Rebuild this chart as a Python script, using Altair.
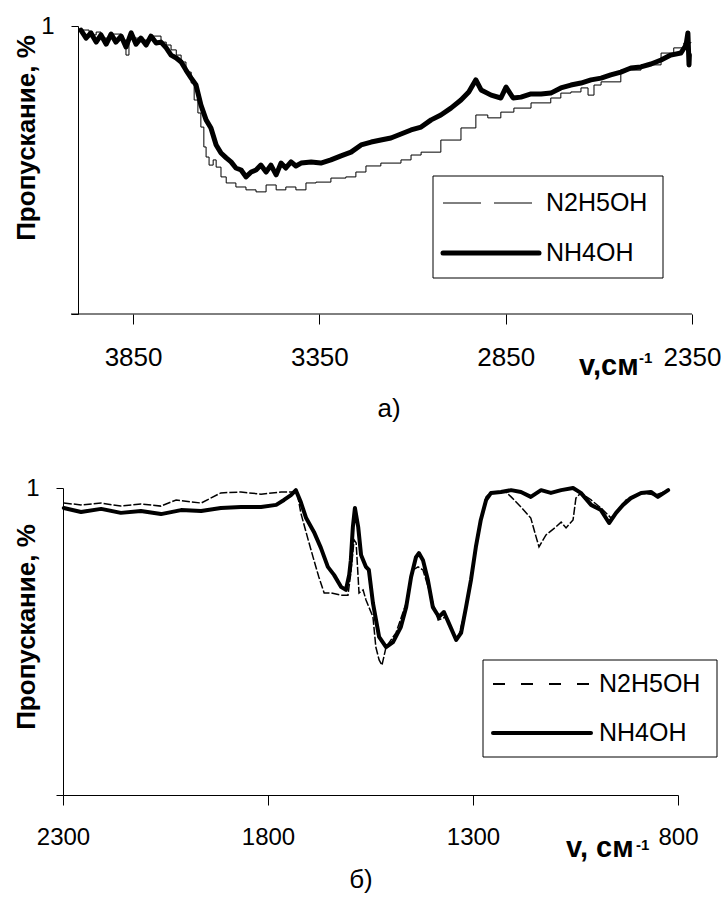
import altair as alt
import pandas as pd

# ---------------- data: panel a) 4000-2350 cm-1 ----------------
a_nh4_wn = [3990, 3976, 3963, 3949, 3936, 3922, 3909, 3896, 3882, 3869, 3855, 3842, 3829, 3815, 3802,
            3788, 3775, 3761, 3748, 3734, 3721, 3708, 3694, 3681, 3668, 3654, 3641, 3627, 3614, 3600,
            3587, 3574, 3560, 3547, 3533, 3520, 3507, 3493, 3480, 3466, 3453, 3440, 3426, 3413, 3399,
            3372, 3346, 3319, 3292, 3265, 3238, 3211, 3185, 3158, 3131, 3104, 3077, 3050, 3024, 2997,
            2970, 2949, 2930, 2916, 2889, 2863, 2849, 2830, 2809, 2782, 2755, 2729, 2702, 2675, 2648,
            2621, 2594, 2568, 2541, 2514, 2487, 2460, 2433, 2407, 2380, 2366, 2361, 2358, 2357]
a_nh4_t = [0.986, 0.958, 0.976, 0.944, 0.969, 0.937, 0.972, 0.944, 0.965, 0.927, 0.976, 0.937, 0.958, 0.934, 0.965,
           0.941, 0.944, 0.924, 0.899, 0.889, 0.875, 0.847, 0.819, 0.795, 0.726, 0.674, 0.646, 0.587, 0.559, 0.542,
           0.528, 0.507, 0.500, 0.476, 0.493, 0.500, 0.517, 0.493, 0.517, 0.483, 0.524, 0.507, 0.528, 0.514, 0.524,
           0.528, 0.524, 0.535, 0.549, 0.562, 0.587, 0.597, 0.604, 0.611, 0.625, 0.639, 0.649, 0.674, 0.691, 0.715,
           0.743, 0.771, 0.813, 0.778, 0.760, 0.750, 0.788, 0.750, 0.753, 0.764, 0.764, 0.767, 0.785, 0.795, 0.802,
           0.813, 0.819, 0.830, 0.840, 0.854, 0.858, 0.868, 0.882, 0.899, 0.906, 0.934, 0.976, 0.865, 0.900]

a_n2_wn = [3990, 3968, 3949, 3936, 3909, 3882, 3869, 3861, 3829, 3802, 3775, 3761, 3748, 3734, 3721,
           3708, 3694, 3686, 3676, 3668, 3660, 3654, 3646, 3635, 3627, 3614, 3600, 3574, 3547, 3520,
           3493, 3466, 3440, 3413, 3386, 3359, 3319, 3279, 3252, 3225, 3185, 3131, 3104, 3077, 3024,
           2970, 2930, 2898, 2863, 2828, 2782, 2729, 2702, 2675, 2648, 2629, 2613, 2594, 2541, 2487,
           2433, 2399, 2372, 2353]
a_n2_t = [0.986, 0.969, 0.979, 0.958, 0.972, 0.951, 0.899, 0.958, 0.951, 0.965, 0.944, 0.934, 0.917, 0.899, 0.875,
          0.840, 0.802, 0.743, 0.698, 0.649, 0.580, 0.545, 0.517, 0.535, 0.510, 0.476, 0.455, 0.441, 0.431, 0.424,
          0.448, 0.431, 0.441, 0.431, 0.455, 0.458, 0.472, 0.476, 0.493, 0.514, 0.524, 0.535, 0.552, 0.562, 0.604,
          0.646, 0.691, 0.681, 0.701, 0.715, 0.733, 0.750, 0.767, 0.771, 0.785, 0.760, 0.795, 0.806, 0.847, 0.865,
          0.906, 0.924, 0.941, 0.944]

# ---------------- data: panel б) 2300-800 cm-1 ----------------
b_nh4_wn = [2298, 2256, 2207, 2159, 2110, 2061, 2012, 1963, 1915, 1866, 1817, 1780, 1761, 1744, 1732,
            1720, 1707, 1688, 1671, 1654, 1639, 1622, 1610, 1602, 1598, 1593, 1588, 1580, 1573, 1561,
            1554, 1544, 1529, 1512, 1495, 1476, 1463, 1451, 1439, 1432, 1422, 1410, 1398, 1383, 1371,
            1359, 1341, 1329, 1317, 1305, 1293, 1281, 1268, 1256, 1232, 1207, 1183, 1159, 1134, 1110,
            1085, 1056, 1037, 1012, 988, 968, 951, 934, 915, 890, 866, 849, 824]
b_nh4_t = [0.935, 0.922, 0.932, 0.919, 0.925, 0.915, 0.928, 0.925, 0.935, 0.938, 0.938, 0.945, 0.961, 0.977, 0.993,
           0.954, 0.902, 0.857, 0.805, 0.743, 0.717, 0.678, 0.668, 0.717, 0.765, 0.873, 0.935, 0.873, 0.782, 0.743,
           0.733, 0.625, 0.515, 0.482, 0.498, 0.547, 0.612, 0.710, 0.775, 0.788, 0.765, 0.700, 0.612, 0.580, 0.596,
           0.560, 0.505, 0.528, 0.612, 0.700, 0.808, 0.896, 0.961, 0.984, 0.987, 0.993, 0.987, 0.971, 0.993, 0.984,
           0.993, 1.000, 0.984, 0.945, 0.928, 0.886, 0.919, 0.945, 0.967, 0.984, 0.987, 0.971, 0.993]

b_n2_wn = [2298, 2256, 2207, 2159, 2110, 2061, 2024, 1963, 1915, 1866, 1817, 1768, 1729, 1720, 1702,
           1688, 1676, 1663, 1646, 1622, 1605, 1598, 1590, 1585, 1578, 1568, 1561, 1544, 1537, 1529,
           1522, 1512, 1488, 1463, 1446, 1434, 1422, 1402, 1385, 1366, 1349, 1337, 1317, 1300, 1285,
           1268, 1256, 1220, 1207, 1183, 1159, 1146, 1139, 1122, 1098, 1085, 1073, 1056, 1049, 1037,
           1012, 988, 963, 944, 927, 890, 854, 824]
b_n2_t = [0.951, 0.945, 0.951, 0.941, 0.948, 0.941, 0.961, 0.951, 0.984, 0.987, 0.980, 0.987, 0.987, 0.919, 0.831,
          0.765, 0.710, 0.658, 0.658, 0.651, 0.651, 0.723, 0.831, 0.821, 0.658, 0.668, 0.635, 0.580, 0.482, 0.440,
          0.423, 0.482, 0.528, 0.625, 0.733, 0.743, 0.733, 0.645, 0.570, 0.580, 0.528, 0.505, 0.612, 0.743, 0.873,
          0.971, 0.987, 0.987, 0.971, 0.938, 0.902, 0.840, 0.808, 0.847, 0.873, 0.889, 0.870, 0.896, 0.967, 0.984,
          0.961, 0.935, 0.902, 0.928, 0.961, 0.984, 0.977, 0.993]

series_names = ["N2H5OH", "NH4OH"]
y_title = "Пропускание, %"
a_ticks = [3850, 3350, 2850, 2350]
b_ticks = [2300, 1800, 1300, 800]

FONT = "Liberation Sans"
one = alt.Data(values=[{}])


def deco_rect(x, x2, y, y2):
    return alt.Chart(one).mark_rect(fill="white", stroke="black", strokeWidth=1).encode(
        x=alt.value(x), x2=alt.value(x2), y=alt.value(y), y2=alt.value(y2))


def deco_rule(x, x2, y, width, dash=None, cap="butt"):
    kw = dict(color="black", strokeWidth=width, strokeCap=cap)
    if dash is not None:
        kw["strokeDash"] = dash
    return alt.Chart(one).mark_rule(**kw).encode(x=alt.value(x), x2=alt.value(x2), y=alt.value(y))


def deco_text(txt, x, y, size, bold=False, align="left", baseline="middle", angle=0):
    return alt.Chart(one).mark_text(text=txt, font=FONT, fontSize=size, fontWeight="bold" if bold else "normal",
                                     align=align, baseline=baseline, color="black", angle=angle).encode(
        x=alt.value(x), y=alt.value(y))


def panel(nh4_wn, nh4_t, n2_wn, n2_t, xdom, ticks, w, h, yoff, title_y, thick_w, thin_w, thin_dash,
          thin_interp, lbl_size, legend, xlabel, caption):
    df_nh4 = pd.DataFrame({"wn": nh4_wn, "t": nh4_t})
    df_n2 = pd.DataFrame({"wn": n2_wn, "t": n2_t})
    xenc = alt.X("wn:Q", scale=alt.Scale(domain=xdom, reverse=True, nice=False, zero=False),
                 axis=alt.Axis(values=ticks, format="d", title=None, tickSize=10, labelPadding=20,
                               labelFontSize=lbl_size, labelFont=FONT, domain=(yoff == 0),
                               domainColor="black", tickColor="black",
                               labelColor="black", labelFlush=False, labelOverlap=False))
    yenc = alt.Y("t:Q", scale=alt.Scale(domain=[0, 1], nice=False, zero=False),
                 axis=alt.Axis(values=[0, 1], labelExpr="datum.value == 1 ? '1' : ''", tickSize=7,
                               labelPadding=17, labelFontSize=24, labelFont=FONT, labelColor="black",
                               domainColor="black", tickColor="black", title=None, offset=-yoff))
    thin_kw = dict(color="black", strokeWidth=thin_w, interpolate=thin_interp)
    if thin_dash is not None:
        thin_kw["strokeDash"] = thin_dash
    thin = alt.Chart(df_n2).mark_line(**thin_kw).encode(x=xenc, y=yenc)
    thick = alt.Chart(df_nh4).mark_line(color="black", strokeWidth=thick_w, strokeJoin="round",
                                        strokeCap="round").encode(x=xenc, y=yenc)
    lines = [thin, thick] if thin_dash is None else [thick, thin]
    deco = [deco_text(y_title, -36, title_y, 26, bold=True, align="center", baseline="middle", angle=270)]
    if yoff:
        # x-axis line of panel a) starts at the y-axis bottom tick
        deco.append(deco_rule(yoff - 7, w, h, 1))
    (bx, bx2, by, by2, sx, sx2, tx, y1, y2, dash1, w1, w2, fs) = legend
    deco += [deco_rect(bx, bx2, by, by2),
             deco_rule(sx, sx2, y1, w1, dash1), deco_text(series_names[0], tx, y1, fs),
             deco_rule(sx, sx2, y2, w2, cap="round"), deco_text(series_names[1], tx, y2, fs)]
    (lx, ly, ltxt, sx_, sy_, lfs) = xlabel
    deco += [deco_text(ltxt, lx, ly, lfs, bold=True, baseline="alphabetic"),
             deco_text("-1", sx_, sy_, 15, bold=True, baseline="alphabetic")]
    (cx, cy, ctxt) = caption
    deco.append(deco_text(ctxt, cx, cy, 26, align="center", baseline="alphabetic"))
    return alt.layer(*lines, *deco).properties(width=w, height=h)


top = panel(a_nh4_wn, a_nh4_t, a_n2_wn, a_n2_t, [2350, 4038], a_ticks, 629, 288,
            15, 112, 5, 1, None, "step-after", 26,
            (370, 600, 150, 252, 380, 476, 483, 177, 227, [38, 13], 1, 5, 25),
            (516, 349, "v,см", 576, 337, 29), (326, 391, "а)"))
bottom = panel(b_nh4_wn, b_nh4_t, b_n2_wn, b_n2_t, [800, 2300], b_ticks, 615, 307,
               0, 139, 4, 1.5, [8, 2], "linear", 24,
               (420, 654, 172, 269, 430, 528, 536, 196, 245, [12, 16], 2, 4, 25),
               (503, 369, "v, см", 573, 362, 29), (298, 400, "б)"))

chart = alt.vconcat(top, bottom, spacing=174, bounds="flush").properties(
    padding={"left": 13, "top": 14, "right": 0, "bottom": 0}
).configure_view(stroke=None).configure_axis(grid=False)

chart.save("out.html", embed_options={"renderer": "svg", "actions": False})
